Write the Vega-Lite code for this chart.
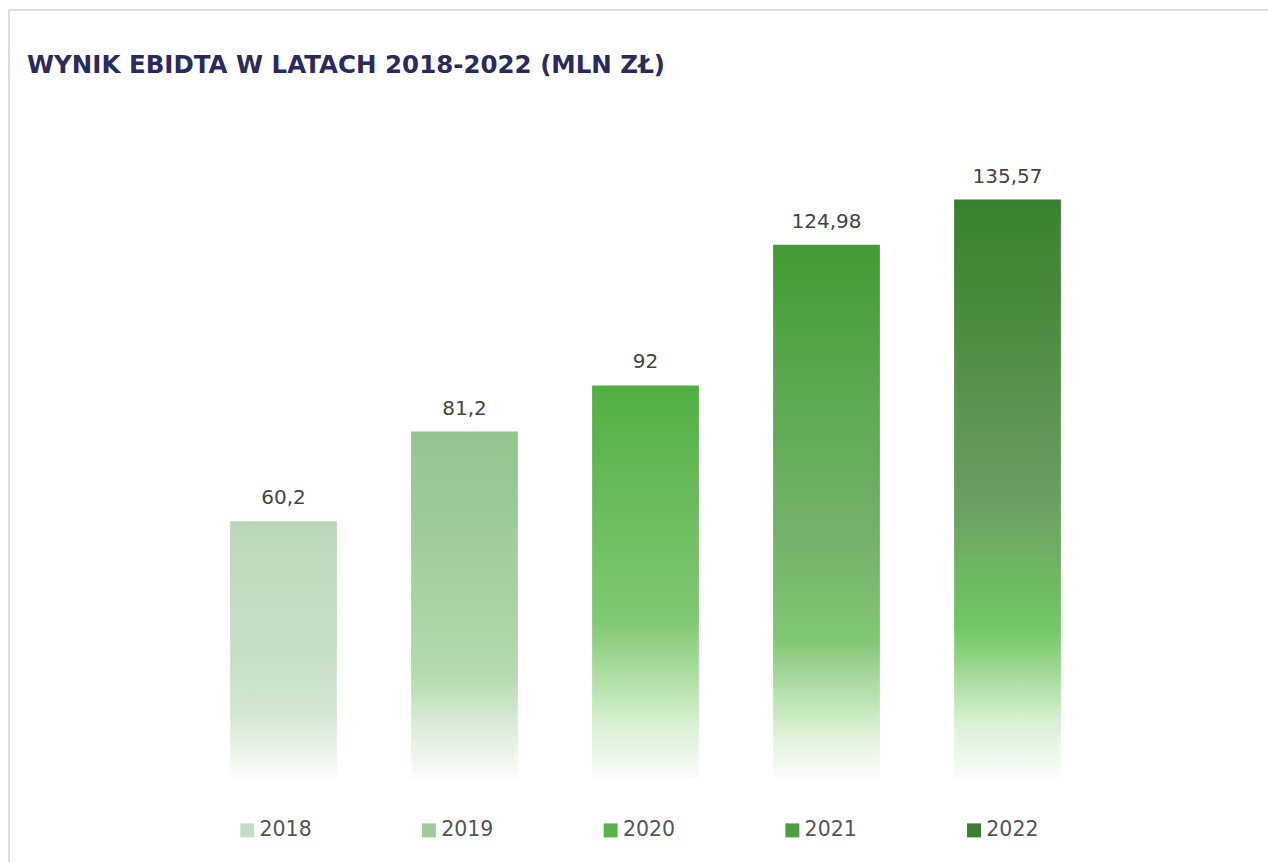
{
  "$schema": "https://vega.github.io/schema/vega-lite/v6.json",
  "autosize": "none",
  "padding": {"left": 9, "top": 10, "right": 0, "bottom": 0},
  "width": 1270,
  "height": 870,
  "background": "#ffffff",
  "view": {"stroke": "#dedede", "strokeWidth": 2, "fill": "#ffffff"},
  "title": {
    "text": "WYNIK EBIDTA W LATACH 2018-2022 (MLN ZŁ)",
    "anchor": "start",
    "orient": "top",
    "frame": "group",
    "dx": 18,
    "dy": 91,
    "baseline": "alphabetic",
    "font": "DejaVu Sans",
    "fontSize": 24.5,
    "fontWeight": "bold",
    "color": "#2b2a5c"
  },
  "config": {
    "locale": {
      "number": {"decimal": ",", "thousands": " ", "grouping": [3], "currency": ["", " zł"]}
    }
  },
  "data": {
    "values": [
      {"year": "2018", "ebitda": 60.2},
      {"year": "2019", "ebitda": 81.2},
      {"year": "2020", "ebitda": 92},
      {"year": "2021", "ebitda": 124.98},
      {"year": "2022", "ebitda": 135.57}
    ]
  },
  "encoding": {
    "x": {
      "field": "year",
      "type": "nominal",
      "axis": null,
      "scale": {"range": [184, 1089], "paddingInner": 0.41, "paddingOuter": 0.205}
    },
    "y": {
      "field": "ebitda",
      "type": "quantitative",
      "axis": null,
      "scale": {"domain": [0, 180], "range": [768, 0], "zero": true, "nice": false}
    }
  },
  "layer": [
    {
      "mark": {"type": "bar", "strokeWidth": 0},
      "encoding": {
        "fill": {
          "field": "year",
          "type": "nominal",
          "condition": [
            {"test": "datum.year === '2018'", "value": {"gradient": "linear", "x1": 0, "y1": 0, "x2": 0, "y2": 1, "stops": [
              {"offset": 0, "color": "#bcd6bb"},
              {"offset": 0.5, "color": "#c7dec6"},
              {"offset": 0.75, "color": "#d3e6d2"},
              {"offset": 0.88, "color": "#e8f2e7"},
              {"offset": 1, "color": "#fbfdfb"}
            ]}},
            {"test": "datum.year === '2019'", "value": {"gradient": "linear", "x1": 0, "y1": 0, "x2": 0, "y2": 1, "stops": [
              {"offset": 0, "color": "#92c48d"},
              {"offset": 0.4, "color": "#a5cfa1"},
              {"offset": 0.7, "color": "#b6d8b2"},
              {"offset": 0.85, "color": "#dcecda"},
              {"offset": 1, "color": "#fbfdfb"}
            ]}},
            {"test": "datum.year === '2020'", "value": {"gradient": "linear", "x1": 0, "y1": 0, "x2": 0, "y2": 1, "stops": [
              {"offset": 0, "color": "#50af41"},
              {"offset": 0.3, "color": "#6bbb5d"},
              {"offset": 0.6, "color": "#80c874"},
              {"offset": 0.72, "color": "#a6dc9a"},
              {"offset": 0.86, "color": "#d8efd2"},
              {"offset": 1, "color": "#fbfdfb"}
            ]}},
            {"test": "datum.year === '2021'", "value": {"gradient": "linear", "x1": 0, "y1": 0, "x2": 0, "y2": 1, "stops": [
              {"offset": 0, "color": "#449b35"},
              {"offset": 0.3, "color": "#5ea953"},
              {"offset": 0.55, "color": "#74b26a"},
              {"offset": 0.74, "color": "#80c773"},
              {"offset": 0.83, "color": "#b0dea6"},
              {"offset": 0.93, "color": "#e4f4e0"},
              {"offset": 1, "color": "#fbfdfb"}
            ]}},
            {"test": "datum.year === '2022'", "value": {"gradient": "linear", "x1": 0, "y1": 0, "x2": 0, "y2": 1, "stops": [
              {"offset": 0, "color": "#38812c"},
              {"offset": 0.2, "color": "#4a8c3e"},
              {"offset": 0.5, "color": "#699c60"},
              {"offset": 0.74, "color": "#72c764"},
              {"offset": 0.8, "color": "#95d68a"},
              {"offset": 0.9, "color": "#d8f0d3"},
              {"offset": 1, "color": "#fbfdfb"}
            ]}}
          ],
          "scale": {"range": ["#c5ddc4", "#a0cc9c", "#58b44a", "#4d9f41", "#3b7f31"]},
          "legend": {
            "title": null,
            "orient": "none",
            "legendX": 228,
            "legendY": 810,
            "direction": "horizontal",
            "columns": 5,
            "columnPadding": 106.7,
            "padding": 0,
            "symbolType": "square",
            "symbolSize": 196,
            "symbolStrokeWidth": 0,
            "labelFont": "DejaVu Sans",
            "labelFontSize": 20.5,
            "labelColor": "#555555",
            "labelOffset": 2,
            "labelBaseline": "middle"
          }
        }
      }
    },
    {
      "mark": {
        "type": "text",
        "baseline": "alphabetic",
        "dy": -17,
        "font": "DejaVu Sans",
        "fontSize": 20,
        "color": "#444444"
      },
      "encoding": {
        "text": {"field": "ebitda", "type": "quantitative", "format": ".2~f"}
      }
    }
  ]
}
